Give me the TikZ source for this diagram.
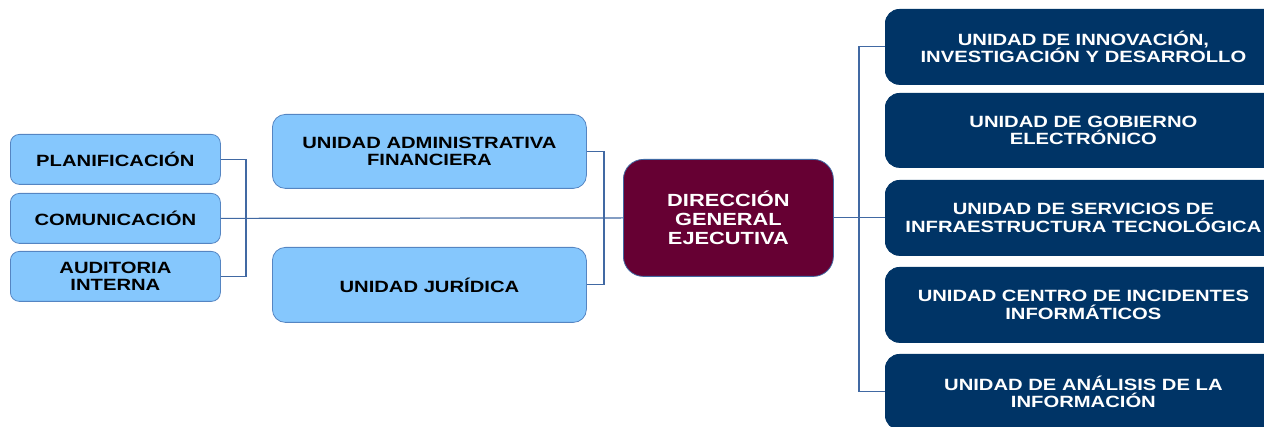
\documentclass[tikz,border=0pt]{standalone}
\usepackage{fontspec}
\setmainfont[FakeStretch=1.24]{Liberation Sans}
\definecolor{lightbox}{HTML}{85C7FD}
\definecolor{lightedge}{HTML}{5585C2}
\definecolor{navybox}{HTML}{003466}
\definecolor{maroonbox}{HTML}{660033}
\definecolor{linecol}{HTML}{4169A3}
\begin{document}
\begin{tikzpicture}[x=1pt,y=-1pt,
  base/.style={rectangle, anchor=north west, align=center, inner sep=0pt,
    font=\fontsize{16.3}{17.7}\selectfont\bfseries},
  leftbox/.style={base, fill=lightbox, draw=lightedge, line width=0.8pt, rounded corners=9pt, text=black},
  midbox/.style={base, fill=lightbox, draw=lightedge, line width=0.8pt, rounded corners=13pt, text=black},
  dirbox/.style={base, fill=maroonbox, draw=linecol, line width=0.8pt, rounded corners=20pt, text=white,
    font=\fontsize{17.6}{19}\selectfont\bfseries},
  rightbox/.style={base, fill=navybox, draw=navybox, line width=0.8pt, rounded corners=14pt, text=white},
  conn/.style={draw=linecol, line width=1.2pt}]
\useasboundingbox (0,0) rectangle (1264,427);
\clip (0,0) rectangle (1264,427);
% left column
\node[leftbox, minimum width=210pt, minimum height=50pt] (pla) at (10,134) {PLANIFICACIÓN};
\node[leftbox, minimum width=210pt, minimum height=50pt] (com) at (10,193) {COMUNICACIÓN};
\node[leftbox, minimum width=210pt, minimum height=50pt] (aud) at (10,251) {AUDITORIA\\INTERNA};
% middle column
\node[midbox, minimum width=314pt, minimum height=74pt] (adm) at (272,114) {UNIDAD ADMINISTRATIVA\\FINANCIERA};
\node[midbox, minimum width=314pt, minimum height=75pt] (jur) at (272,247) {UNIDAD JURÍDICA};
% center
\node[dirbox, minimum width=210pt, minimum height=117pt] (dir) at (623,159) {DIRECCIÓN\\GENERAL\\EJECUTIVA};
% right column
\node[rightbox, minimum width=396pt, minimum height=75pt] (r1) at (885,9) {UNIDAD DE INNOVACIÓN,\\INVESTIGACIÓN Y DESARROLLO};
\node[rightbox, minimum width=396pt, minimum height=74pt] (r2) at (885,93) {UNIDAD DE GOBIERNO\\ELECTRÓNICO};
\node[rightbox, minimum width=396pt, minimum height=75pt] (r3) at (885,180) {UNIDAD DE SERVICIOS DE\\INFRAESTRUCTURA TECNOLÓGICA};
\node[rightbox, minimum width=396pt, minimum height=75pt] (r4) at (885,267) {UNIDAD CENTRO DE INCIDENTES\\INFORMÁTICOS};
\node[rightbox, minimum width=396pt, minimum height=75pt] (r5) at (885,354) {UNIDAD DE ANÁLISIS DE LA\\INFORMACIÓN};
% connectors
\coordinate (lbar) at (246,217.5);
\coordinate (mbar) at (604,217.5);
\coordinate (rbar) at (859,217.5);
\draw[conn] (pla.east) -| (lbar) |- (aud.east);
\draw[conn] (adm.east) -| (mbar) |- (jur.east);
\draw[conn] (com.east) -- (dir.west);
\draw[conn] (dir.east) -- (r3.west);
\draw[conn] (r1.west) -| (rbar) |- (r5.west);
\end{tikzpicture}
\end{document}
